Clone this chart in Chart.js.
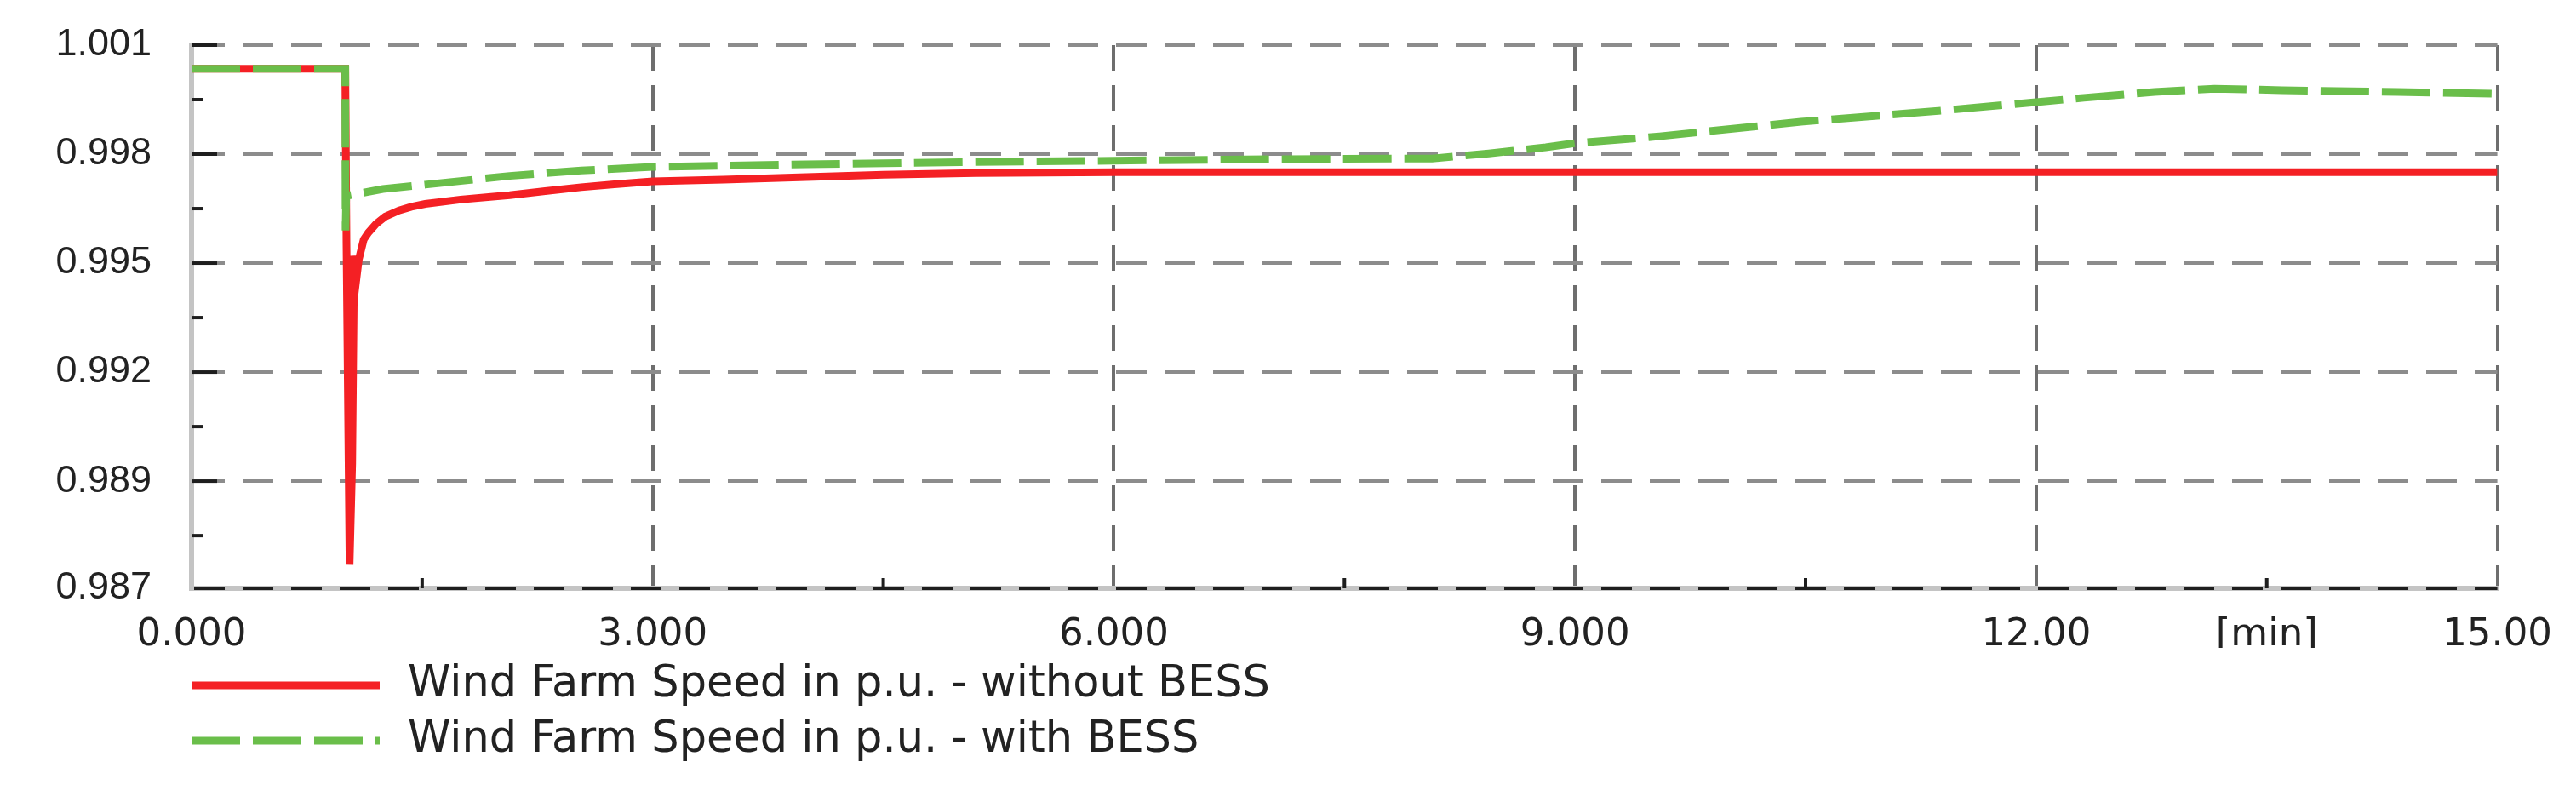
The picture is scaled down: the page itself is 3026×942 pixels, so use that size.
<!DOCTYPE html>
<html><head><meta charset="utf-8">
<script src="https://cdn.jsdelivr.net/npm/chart.js@4.4.1/dist/chart.umd.min.js"></script>
<style>html,body{margin:0;padding:0;background:#fff;overflow:hidden}#wrap{width:3026px;height:942px}</style>
</head><body><div id="wrap"><canvas id="c" width="3026" height="942"></canvas></div>
<script>
const seriesLabels = ["Wind Farm Speed in p.u. - without BESS", "Wind Farm Speed in p.u. - with BESS"];

const timeWithout = [0, 1.0, 1.008, 1.028, 1.045, 1.058, 1.072, 1.088, 1.12, 1.15, 1.2, 1.26, 1.35, 1.43, 1.52, 1.75, 2.07, 2.3, 2.535, 2.75, 3.0, 3.46, 4.0, 4.5, 5.1, 6.0, 8.0, 10.0, 12.0, 15.0];
const speedWithout = [1.00035, 1.00035, 0.9955, 0.9867, 0.9895, 0.9952, 0.99455, 0.9951, 0.99565, 0.99584, 0.99608, 0.99628, 0.99645, 0.99655, 0.99663, 0.99675, 0.99687, 0.99698, 0.99709, 0.99717, 0.99725, 0.9973, 0.99737, 0.99743, 0.99748, 0.9975, 0.9975, 0.9975, 0.9975, 0.9975];

const timeWith = [0, 1.0, 1.002, 1.006, 1.245, 1.52, 2.07, 2.535, 3.0, 4.0, 5.0, 6.0, 7.0, 8.07, 8.44, 8.81, 9.0, 9.55, 10.47, 11.39, 12.0, 12.31, 12.77, 13.16, 13.6, 14.35, 15.0];
const speedWith = [1.00035, 1.00035, 0.9959, 0.99685, 0.99704, 0.99716, 0.9974, 0.99755, 0.99765, 0.99772, 0.99778, 0.99782, 0.99786, 0.99788, 0.99802, 0.99819, 0.9983, 0.99849, 0.99889, 0.9992, 0.99943, 0.99955, 0.99971, 0.9998, 0.99976, 0.99971, 0.99966];

const yTickValues = [0.98605, 0.989, 0.992, 0.995, 0.998, 1.001];
const yTickLabels = ["0.987", "0.989", "0.992", "0.995", "0.998", "1.001"];
const xTickValues = [0, 1.5, 3, 4.5, 6, 7.5, 9, 10.5, 12, 13.5, 15];
const xTickLabels = ["0.000", "", "3.000", "", "6.000", "", "9.000", "", "12.00", "[min]", "15.00"];

const FONT = "'DejaVu Sans', sans-serif";
const YFONT = "'Liberation Sans', Arial, sans-serif";
const TXT = '#222222';

const decor = {
  id: 'decor',
  beforeDatasetsDraw(chart) {
    const ctx = chart.ctx, xs = chart.scales.x, ys = chart.scales.y, a = chart.chartArea;
    ctx.save();
    ctx.strokeStyle = '#1e1e1e';
    ctx.lineWidth = 4;
    ctx.setLineDash([]);
    yTickValues.forEach((v, i) => {
      if (i === 0) return;
      const y = ys.getPixelForValue(v);
      ctx.beginPath(); ctx.moveTo(a.left, y); ctx.lineTo(a.left + 30, y); ctx.stroke();
      const ym = ys.getPixelForValue(v - 0.0015);
      ctx.beginPath(); ctx.moveTo(a.left, ym); ctx.lineTo(a.left + 13, ym); ctx.stroke();
    });
    xTickValues.forEach((v, i) => {
      if (i % 2 === 0) return;
      const x = xs.getPixelForValue(v);
      ctx.beginPath(); ctx.moveTo(x, a.bottom); ctx.lineTo(x, a.bottom - 12); ctx.stroke();
    });
    ctx.restore();
  },
  afterDraw(chart) {
    const ctx = chart.ctx, a = chart.chartArea;
    const rows = [a.bottom + 114, a.bottom + 179];
    ctx.save();
    chart.data.datasets.forEach((ds, i) => {
      const y = rows[i];
      ctx.strokeStyle = ds.borderColor;
      ctx.lineWidth = ds.borderWidth;
      ctx.setLineDash(ds.borderDash || []);
      ctx.beginPath(); ctx.moveTo(a.left, y); ctx.lineTo(a.left + 221, y); ctx.stroke();
      ctx.setLineDash([]);
      ctx.fillStyle = TXT;
      ctx.font = "51px " + FONT;
      ctx.textBaseline = 'middle';
      ctx.textAlign = 'left';
      ctx.fillText(ds.label, a.left + 254, y);
    });
    ctx.restore();
  }
};

new Chart(document.getElementById('c'), {
  type: 'line',
  data: {
    datasets: [
      {
        label: seriesLabels[0],
        data: timeWithout.map((t, i) => ({x: t, y: speedWithout[i]})),
        borderColor: 'rgb(244,32,36)',
        borderWidth: 9,
        pointRadius: 0,
        tension: 0,
        fill: false,
        order: 2
      },
      {
        label: seriesLabels[1],
        data: timeWith.map((t, i) => ({x: t, y: speedWith[i]})),
        borderColor: 'rgb(106,190,74)',
        borderWidth: 9,
        borderDash: [57, 15],
        pointRadius: 0,
        tension: 0,
        fill: false,
        order: 1
      }
    ]
  },
  options: {
    responsive: false,
    animation: false,
    devicePixelRatio: 1,
    layout: {padding: {top: 53, right: 91, bottom: 181, left: 0}},
    plugins: {legend: {display: false}, tooltip: {enabled: false}},
    scales: {
      x: {
        type: 'linear', min: 0, max: 15,
        afterBuildTicks: s => { s.ticks = xTickValues.map(v => ({value: v})); },
        afterFit: s => { s.height = 70; },
        ticks: {
          autoSkip: false, maxRotation: 0, padding: 28,
          font: {family: FONT, size: 45}, color: TXT,
          callback: (v, i) => xTickLabels[i]
        },
        grid: {
          drawTicks: false,
          lineWidth: 4,
          color: c => {
            const i = c.index;
            if (i % 2 === 1) return 'rgba(0,0,0,0)';
            if (i === 0) return '#1e1e1e';
            return '#6e6e6e';
          }
        },
        border: {display: true, color: '#c4c4c4', width: 6, dash: [30, 17], z: -1}
      },
      y: {
        type: 'linear', min: yTickValues[0], max: yTickValues[yTickValues.length - 1],
        afterBuildTicks: s => { s.ticks = yTickValues.map(v => ({value: v})); },
        afterFit: s => { s.width = 225; },
        ticks: {
          autoSkip: false, padding: 47,
          font: {family: YFONT, size: 45, lineHeight: 0.2}, color: TXT,
          callback: (v, i) => yTickLabels[i]
        },
        grid: {
          drawTicks: false,
          lineWidth: 4,
          color: c => c.index === 0 ? '#1e1e1e' : '#8c8c8c'
        },
        border: {display: true, color: '#c4c4c4', width: 6, dash: [36, 21], z: -1}
      }
    }
  },
  plugins: [decor]
});
</script></body></html>
